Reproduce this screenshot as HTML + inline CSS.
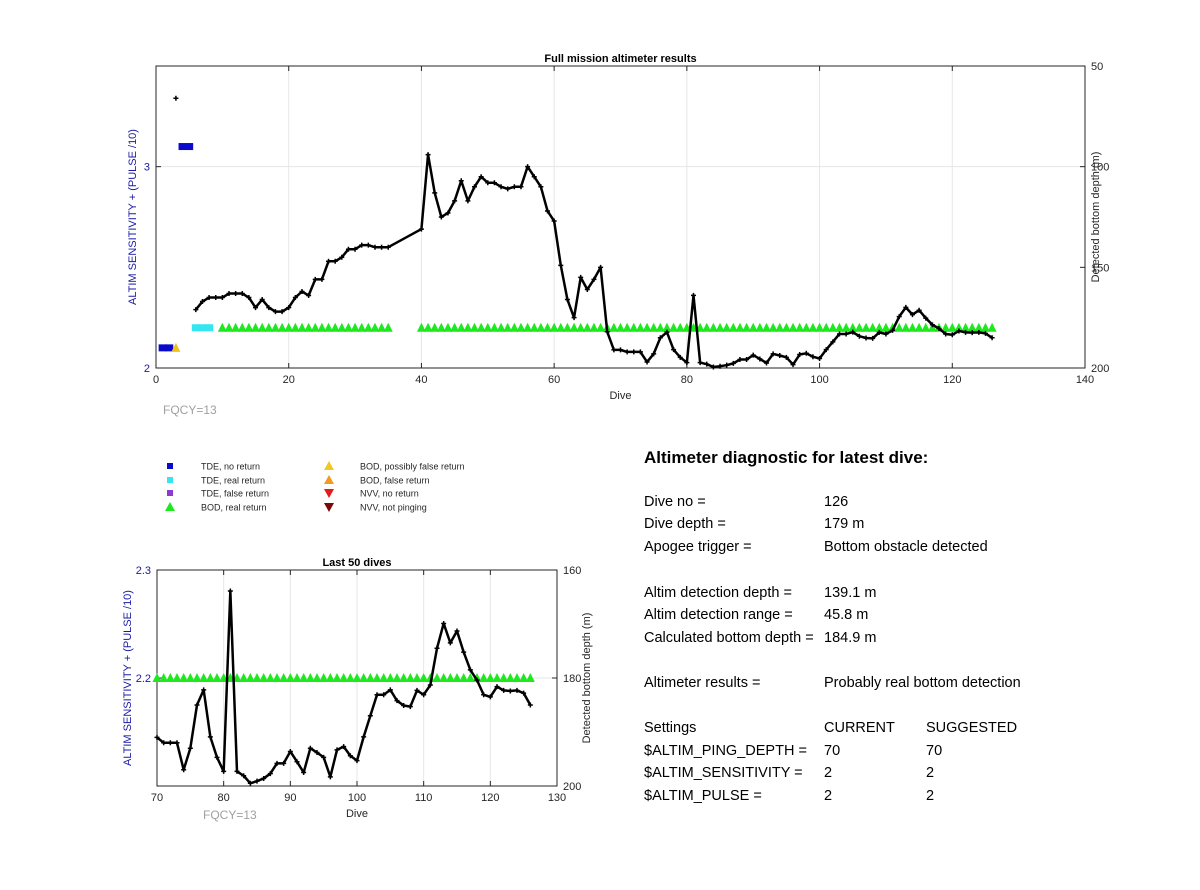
<!DOCTYPE html>
<html><head><meta charset="utf-8"><style>
body{margin:0;background:#fff;width:1200px;height:885px;overflow:hidden;font-family:"Liberation Sans",sans-serif}
svg text{font-family:"Liberation Sans",sans-serif}
</style></head><body>
<svg id="s" width="1200" height="885"></svg>
<script>
const diveNos=[6,7,8,9,10,11,12,13,14,15,16,17,18,19,20,21,22,23,24,25,26,27,28,29,30,31,32,33,34,35,40,41,42,43,44,45,46,47,48,49,50,51,52,53,54,55,56,57,58,59,60,61,62,63,64,65,66,67,68,69,70,71,72,73,74,75,76,77,78,79,80,81,82,83,84,85,86,87,88,89,90,91,92,93,94,95,96,97,98,99,100,101,102,103,104,105,106,107,108,109,110,111,112,113,114,115,116,117,118,119,120,121,122,123,124,125,126];
const depths=[171,167,165,165,165,163,163,163,165,170,166,170,172,172,170,165,162,164,156,156,147,147,145,141,141,139,139,140,140,140,131,94,113,125,123,117,107,117,110,105,108,108,110,111,110,110,100,105,110,122,127,149,166,175,155,161,156,150,182,191,191,192,192,192,197,193,185,182.2,190.9,194.7,197.3,163.9,197.3,198.1,199.5,199.1,198.6,197.7,195.8,195.8,193.6,195.5,197.5,193,193.8,194.7,198.3,193.3,192.7,194.4,195.3,190.9,187,183.1,183.1,182.2,184.2,185.1,185.3,182.3,183.1,181.3,174.5,169.9,173.5,171.3,175.2,178.5,180.4,183.1,183.5,181.6,182.3,182.4,182.3,182.8,185];
const isolatedDive=[3], isolatedDepth=[66];
const tdeNoDives=[1,2,4,5], tdeNoSens=[2.1,2.1,3.1,3.1];
const tdeRealDives=[6,7,8], tdeRealSens=[2.2,2.2,2.2];
const bodPossDives=[3], bodPossSens=[2.1];
const bodRealDives=[]; for(let d=10;d<=35;d++)bodRealDives.push(d); for(let d=40;d<=126;d++)bodRealDives.push(d);
const bodRealSens=bodRealDives.map(()=>2.2);

const S=document.getElementById('s'),NS='http://www.w3.org/2000/svg';
function el(t,a,p){const e=document.createElementNS(NS,t);for(const k in a)e.setAttribute(k,a[k]);(p||S).appendChild(e);return e;}
function txt(x,y,s,a,p){const e=el('text',Object.assign({x:x,y:y},a),p);e.textContent=s;return e;}

function chart(cfg){
  const g=el('g',{});
  
  
  const X=v=>cfg.x0+(v-cfg.xmin)/(cfg.xmax-cfg.xmin)*(cfg.x1-cfg.x0);
  const YL=v=>cfg.y1-(v-cfg.lmin)/(cfg.lmax-cfg.lmin)*(cfg.y1-cfg.y0);
  const YR=v=>cfg.y0+(v-cfg.rmin)/(cfg.rmax-cfg.rmin)*(cfg.y1-cfg.y0);
  // grid
  cfg.xt.forEach(v=>{el('line',{x1:X(v),x2:X(v),y1:cfg.y0,y2:cfg.y1,stroke:'#e6e6e6','stroke-width':1},g);});
  cfg.lt.forEach(v=>{el('line',{x1:cfg.x0,x2:cfg.x1,y1:YL(v),y2:YL(v),stroke:'#e6e6e6','stroke-width':1},g);});
  const box=el('rect',{x:cfg.x0,y:cfg.y0,width:cfg.x1-cfg.x0,height:cfg.y1-cfg.y0,fill:'none',stroke:'#262626','stroke-width':1},g);
  
  cfg.xt.forEach(v=>{el('line',{x1:X(v),x2:X(v),y1:cfg.y1,y2:cfg.y1-5,stroke:'#262626'},g);el('line',{x1:X(v),x2:X(v),y1:cfg.y0,y2:cfg.y0+5,stroke:'#262626'},g);
    const t=txt(X(v),cfg.y1+15,String(v),{'font-size':11,'text-anchor':'middle',fill:'#262626'},g);});
  cfg.lt.forEach((v,i)=>{el('line',{x1:cfg.x0,x2:cfg.x0+5,y1:YL(v),y2:YL(v),stroke:'#262626'},g);
    const t=txt(cfg.x0-6,YL(v)+4,cfg.ltl[i],{'font-size':11,'text-anchor':'end',fill:'#1a1aa6'},g);});
  cfg.rt.forEach(v=>{el('line',{x1:cfg.x1,x2:cfg.x1-5,y1:YR(v),y2:YR(v),stroke:'#262626'},g);
    const t=txt(cfg.x1+6,YR(v)+4,String(v),{'font-size':11,fill:'#262626'},g);});
  let t=txt((cfg.x0+cfg.x1)/2,cfg.y0-4,cfg.title,{'font-size':11,'font-weight':'bold','text-anchor':'middle',fill:'#000'},g);
  t=txt((cfg.x0+cfg.x1)/2,cfg.y1+31,'Dive',{'font-size':11,'text-anchor':'middle',fill:'#262626'},g);
  const cy=(cfg.y0+cfg.y1)/2;
  t=txt(cfg.x0-cfg.lOff,cy,'ALTIM SENSITIVITY + (PULSE /10)',{'font-size':11,'text-anchor':'middle',fill:'#1a1aa6',transform:`rotate(-90 ${cfg.x0-cfg.lOff} ${cy})`},g);
  t=txt(cfg.x1+cfg.rOff,cy,'Detected bottom depth (m)',{'font-size':11,'text-anchor':'middle',fill:'#262626',transform:`rotate(-90 ${cfg.x1+cfg.rOff} ${cy})`},g);
  t=txt(cfg.fx,cfg.fy,'FQCY=13',{'font-size':12,fill:'#a0a0a0'},g);
  const inR=d=>d>=cfg.xmin&&d<=cfg.xmax;
  const sq=(ds,vs,col,name)=>ds.forEach((d,i)=>{if(!inR(d))return;const r=el('rect',{x:X(d)-4,y:YL(vs[i])-3.5,width:8,height:7,fill:col},g);});
  const tri=(ds,vs,col,name)=>ds.forEach((d,i)=>{if(!inR(d))return;const x=X(d),y=YL(vs[i]);const p=el('polygon',{points:`${x-4.5},${y+4} ${x+4.5},${y+4} ${x},${y-5}`,fill:col},g);});
  sq(tdeNoDives,tdeNoSens,'#0a0acc','tde-no-return-marker');
  sq(tdeRealDives,tdeRealSens,'#33e6f0','tde-real-return-marker');
  tri(bodPossDives,bodPossSens,'#f0c020','bod-possibly-false-marker');
  tri(bodRealDives,bodRealSens,'#1ee81e','bod-real-return-marker');
  const pts=[];diveNos.forEach((d,i)=>{if(inR(d))pts.push(X(d)+','+YR(depths[i]));});
  const pl=el('polyline',{points:pts.join(' '),fill:'none',stroke:'#000','stroke-width':2.5,'stroke-linejoin':'round'},g);
  
  const star=(x,y)=>{el('path',{d:`M${x-2.5},${y}h5M${x},${y-2.5}v5`,stroke:'#000','stroke-width':1.5},g);};
  diveNos.forEach((d,i)=>{if(inR(d))star(X(d),YR(depths[i]));});
  isolatedDive.forEach((d,i)=>{if(inR(d))star(X(d),YR(isolatedDepth[i]));});
}
chart({name:'full-mission-chart',title:'Full mission altimeter results',x0:156,x1:1085,y0:66,y1:368,xmin:0,xmax:140,lmin:2,lmax:3.5,rmin:50,rmax:200,
 xt:[0,20,40,60,80,100,120,140],lt:[2,3],ltl:['2','3'],rt:[50,100,150,200],lOff:20,rOff:14,fx:163,fy:414});
chart({name:'last-50-dives-chart',title:'Last 50 dives',x0:157,x1:557,y0:570,y1:786,xmin:70,xmax:130,lmin:2.1,lmax:2.3,rmin:160,rmax:200,
 xt:[70,80,90,100,110,120,130],lt:[2.2,2.3],ltl:['2.2','2.3'],rt:[160,180,200],lOff:26,rOff:33,fx:203,fy:819});
// legend
const lg=el('g',{});
const leg=[['sq','#0a0acc','TDE, no return',170,466],['sq','#33e6f0','TDE, real return',170,480],['sq','#8a3cd0','TDE, false return',170,493],['up','#1ee81e','BOD, real return',170,507],
['up','#f0c820','BOD, possibly false return',329,466],['up','#f09a20','BOD, false return',329,480],['dn','#e61a1a','NVV, no return',329,493],['dn','#7a0a0a','NVV, not pinging',329,507]];
leg.forEach(l=>{const [k,c,s,x,y]=l;
 if(k==='sq')el('rect',{x:x-3,y:y-3,width:6,height:6,fill:c},lg);
 else if(k==='up')el('polygon',{points:`${x-5},${y+4} ${x+5},${y+4} ${x},${y-5}`,fill:c},lg);
 else el('polygon',{points:`${x-5},${y-4} ${x+5},${y-4} ${x},${y+5}`,fill:c},lg);
 const t=txt(x+31,y+3.5,s,{'font-size':9,fill:'#262626'},lg);});
// diagnostics
const dg=el('g',{});
let t=txt(644,463,'Altimeter diagnostic for latest dive:',{'font-size':17,'font-weight':'bold',fill:'#000'},dg);
const rows=[[506,'Dive no =','126',''],[528,'Dive depth =','179 m',''],[551,'Apogee trigger =','Bottom obstacle detected',''],
[597,'Altim detection depth =','139.1 m',''],[619,'Altim detection range =','45.8 m',''],[642,'Calculated bottom depth =','184.9 m',''],
[687,'Altimeter results =','Probably real bottom detection',''],[732,'Settings','CURRENT','SUGGESTED'],[755,'$ALTIM_PING_DEPTH =','70','70'],
[777,'$ALTIM_SENSITIVITY =','2','2'],[800,'$ALTIM_PULSE =','2','2']];
rows.forEach(r=>{const a={'font-size':14.5,fill:'#000'};
 let e=txt(644,r[0],r[1],a,dg);
 e=txt(824,r[0],r[2],a,dg);
 if(r[3]){e=txt(926,r[0],r[3],a,dg);}});
</script>
</body></html>
